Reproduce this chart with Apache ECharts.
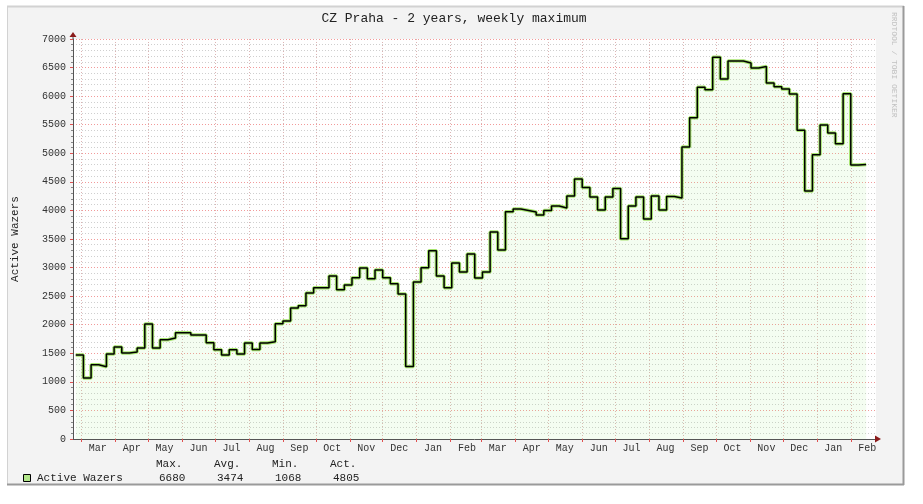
<!DOCTYPE html>
<html><head><meta charset="utf-8">
<script src="https://cdn.jsdelivr.net/npm/echarts@6/dist/echarts.min.js"></script>
<style>html,body{margin:0;padding:0;background:#fff}#c{width:923px;height:504px}</style>
</head><body><div id="c"></div>
<script>
const chartTitle = 'CZ Praha - 2 years, weekly maximum';
const seriesName = 'Active Wazers';
const watermark = 'RRDTOOL / TOBI OETIKER';
// first weekly bin start (UTC)
const firstWeek = [2017, 1, 24];
const axisStart = [2017, 1, 21, 12];
const axisEnd = [2019, 1, 24];
const weeklyMax = [
  1470, 1068, 1300, 1265, 1487, 1610, 1505, 1522, 1592, 2012,
  1592, 1738, 1767, 1860, 1860, 1820, 1820, 1685, 1563, 1470,
  1563, 1487, 1680, 1568, 1680, 1703, 2018, 2065, 2292, 2333,
  2555, 2648, 2648, 2852, 2613, 2695, 2823, 2992, 2805, 2957,
  2823, 2718, 2537, 1268, 2747, 2997, 3295, 2852, 2648, 3080,
  2922, 3237, 2817, 2922, 3622, 3307, 3978, 4025, 4000, 3972,
  3920, 4000, 4077, 4042, 4252, 4550, 4403, 4235, 4007, 4235,
  4385, 3505, 4077, 4235, 3850, 4252, 4007, 4245, 4217, 5110,
  5620, 6155, 6110, 6680, 6300, 6615, 6615, 6580, 6492, 6520,
  6230, 6165, 6125, 6037, 5405, 4340, 4975, 5495, 5355, 5165,
  6043, 4795, 4805
];
const monthLabels = ['Mar','Apr','May','Jun','Jul','Aug','Sep','Oct','Nov','Dec','Jan','Feb',
                     'Mar','Apr','May','Jun','Jul','Aug','Sep','Oct','Nov','Dec','Jan','Feb'];
const firstMonth = [2017, 2];
const yMin = 0, yMax = 7000, yStep = 500;
const statHeaders = ['Max.', 'Avg.', 'Min.', 'Act.'];
const statValues = ['6680', '3474', '1068', '4805'];

const DAY = 86400000;
const FONT = '"Liberation Mono", "DejaVu Sans Mono", monospace';
const tStart = Date.UTC.apply(null, axisStart);
const tEnd = Date.UTC.apply(null, axisEnd);
const toDay = (t) => (t - tStart) / DAY;
const t0 = Date.UTC(firstWeek[0], firstWeek[1], firstWeek[2]);
const data = weeklyMax.map((v, i) => [toDay(t0 + i * 7 * DAY), v]);
data.push([toDay(t0 + weeklyMax.length * 7 * DAY), weeklyMax[weeklyMax.length - 1]]);
const monthStarts = monthLabels.map((m, k) => toDay(Date.UTC(firstMonth[0], firstMonth[1] + k, 1)));
const monthMids = monthLabels.map((m, k) => toDay(Date.UTC(firstMonth[0], firstMonth[1] + k, 16)));
const xMin = 0;
const xMax = toDay(tEnd);

const chart = echarts.init(document.getElementById('c'), null, {renderer: 'canvas'});

const statCols = [156, 214, 272, 330];
const graphics = [
  {type: 'rect', silent: true, z: -10, shape: {x: 7, y: 6, width: 897, height: 478}, style: {fill: '#f3f3f3'}},
  {type: 'line', silent: true, z: -9, shape: {x1: 7, y1: 6.5, x2: 904, y2: 6.5}, style: {stroke: '#d2d2d2', lineWidth: 2}},
  {type: 'line', silent: true, z: -9, shape: {x1: 7.5, y1: 6, x2: 7.5, y2: 484}, style: {stroke: '#d2d2d2', lineWidth: 1}},
  {type: 'line', silent: true, z: -9, shape: {x1: 903.5, y1: 6, x2: 903.5, y2: 485}, style: {stroke: '#9a9a9a', lineWidth: 2}},
  {type: 'line', silent: true, z: -9, shape: {x1: 7, y1: 484.5, x2: 904, y2: 484.5}, style: {stroke: '#9a9a9a', lineWidth: 2}},
  {type: 'text', silent: true, style: {text: chartTitle, x: 454, y: 19, align: 'center', verticalAlign: 'middle', font: '13px ' + FONT, fill: '#222'}},
  {type: 'text', silent: true, rotation: -Math.PI / 2, x: 894, y: 12, style: {text: watermark, x: 0, y: 0, align: 'left', verticalAlign: 'middle', font: '8px ' + FONT, fill: '#c0c0c0'}},
  {type: 'rect', silent: true, shape: {x: 23.5, y: 474.5, width: 7, height: 7}, style: {fill: '#b2e68a', stroke: '#000', lineWidth: 1}},
  {type: 'text', silent: true, style: {text: seriesName, x: 37, y: 478, verticalAlign: 'middle', font: '11px ' + FONT, fill: '#222'}}
];
statHeaders.forEach((h, i) => {
  graphics.push({type: 'text', silent: true, style: {text: h, x: statCols[i], y: 464, verticalAlign: 'middle', font: '11px ' + FONT, fill: '#222'}});
  graphics.push({type: 'text', silent: true, style: {text: statValues[i], x: statCols[i] + 3, y: 478, verticalAlign: 'middle', font: '11px ' + FONT, fill: '#222'}});
});

const option = {
  animation: false,
  backgroundColor: '#ffffff',
  grid: {left: 73, right: 47, top: 39, bottom: 65, show: true, backgroundColor: '#ffffff', borderWidth: 0},
  graphic: graphics,
  xAxis: {
    type: 'value', min: xMin, max: xMax,
    axisLine: {show: true, lineStyle: {color: '#555', width: 1}},
    axisTick: {show: true, customValues: monthStarts, length: 3, inside: false, lineStyle: {color: '#e05050'}},
    axisLabel: {show: true, customValues: monthMids, margin: 4, color: '#333', fontFamily: FONT, fontSize: 10,
      formatter: (v) => { let best = 0; monthMids.forEach((m, i) => { if (Math.abs(m - v) < Math.abs(monthMids[best] - v)) best = i; }); return monthLabels[best]; }},
    splitLine: {show: true, lineStyle: {color: '#dcb4b4', type: [1, 2], width: 1}}
  },
  yAxis: {
    type: 'value', min: yMin, max: yMax, interval: yStep,
    name: seriesName, nameLocation: 'middle', nameGap: 52, nameRotate: 90,
    nameTextStyle: {fontFamily: FONT, fontSize: 11, color: '#222'},
    axisLine: {show: true, lineStyle: {color: '#555', width: 1}},
    axisTick: {show: true, length: 3, lineStyle: {color: '#e05050'}},
    minorTick: {show: true, splitNumber: 5, length: 2, lineStyle: {color: '#888'}},
    axisLabel: {margin: 7, color: '#333', fontFamily: FONT, fontSize: 10, formatter: (v) => String(v)},
    splitLine: {show: true, lineStyle: {color: '#f29a9a', type: [1, 2], width: 1}},
    minorSplitLine: {show: true, lineStyle: {color: '#cfcfcf', type: [1, 2], width: 1}}
  },
  series: [
    {
      name: seriesName, type: 'line', step: 'end', data: data, symbol: 'none',
      lineStyle: {color: '#a6e46e', width: 3.5}, areaStyle: {color: 'rgba(170,240,140,0.18)'}, z: 2
    },
    {
      name: seriesName + ' line', type: 'line', step: 'end', data: data, symbol: 'none',
      lineStyle: {color: '#000', width: 1.5}, z: 3
    }
  ]
};
chart.setOption(option);

// axis arrows (decoration), positioned from the axis extents
const pTop = chart.convertToPixel({gridIndex: 0}, [xMin, yMax]);
const pRight = chart.convertToPixel({gridIndex: 0}, [xMax, yMin]);
chart.setOption({graphic: graphics.concat([
  {type: 'line', silent: true, z: 5, shape: {x1: pTop[0], y1: pTop[1], x2: pTop[0], y2: pTop[1] - 4}, style: {stroke: '#555'}},
  {type: 'polygon', silent: true, z: 5, shape: {points: [[pTop[0] - 3.5, pTop[1] - 2], [pTop[0] + 3.5, pTop[1] - 2], [pTop[0], pTop[1] - 7]]}, style: {fill: '#8b1a1a'}},
  {type: 'polygon', silent: true, z: 5, shape: {points: [[pRight[0] - 1, pRight[1] - 3.5], [pRight[0] - 1, pRight[1] + 3.5], [pRight[0] + 5, pRight[1]]]}, style: {fill: '#8b1a1a'}}
])});
</script>
</body></html>
